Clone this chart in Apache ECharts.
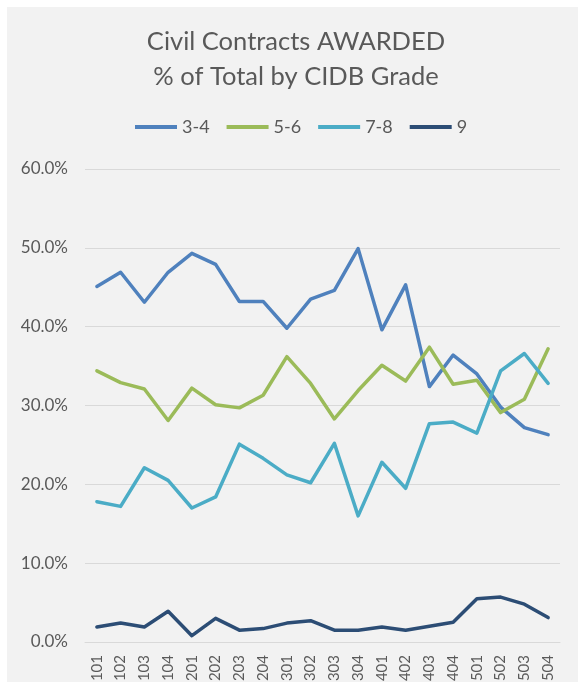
<!DOCTYPE html>
<html>
<head>
<meta charset="utf-8">
<script src="https://cdn.jsdelivr.net/npm/echarts@6/dist/echarts.min.js"></script>
<style>
  html, body { margin: 0; padding: 0; background: #ffffff; }
  #chart { position: absolute; left: 7px; top: 7px; width: 571px; height: 675px; background: #f2f2f2; }
</style>
</head>
<body>
<div id="chart"></div>
<script>
const quarters = ["1101", "1102", "1103", "1104", "1201", "1202", "1203", "1204",
  "1301", "1302", "1303", "1304", "1401", "1402", "1403", "1404",
  "1501", "1502", "1503", "1504"];

// % of total contracts awarded per CIDB grade band
const grade34 = [45.1, 46.9, 43.1, 46.9, 49.3, 47.9, 43.2, 43.2, 39.8, 43.5,
  44.6, 49.9, 39.6, 45.3, 32.4, 36.4, 34.0, 29.8, 27.2, 26.3];
const grade56 = [34.4, 32.9, 32.1, 28.1, 32.2, 30.1, 29.7, 31.3, 36.2, 32.8,
  28.3, 31.9, 35.1, 33.1, 37.4, 32.7, 33.2, 29.1, 30.8, 37.2];
const grade78 = [17.8, 17.2, 22.1, 20.5, 17.0, 18.4, 25.1, 23.3, 21.2, 20.2,
  25.2, 16.0, 22.8, 19.5, 27.7, 27.9, 26.5, 34.4, 36.6, 32.8];
const grade9 = [1.9, 2.4, 1.9, 3.9, 0.8, 3.0, 1.5, 1.7, 2.4, 2.7,
  1.5, 1.5, 1.9, 1.5, 2.0, 2.5, 5.5, 5.7, 4.8, 3.1];

const seriesNames = ["3-4", "5-6", "7-8", "9"];
const seriesColors = ["#4f81bd", "#9bbb59", "#4bacc6", "#2c4d75"];
const seriesData = [grade34, grade56, grade78, grade9];

const chart = echarts.init(document.getElementById("chart"));

const option = {
  backgroundColor: "#f2f2f2",
  textStyle: { fontFamily: "Lato" },
  title: {
    text: "Civil Contracts AWARDED\n% of Total by CIDB Grade",
    left: 289,
    top: 17,
    padding: 0,
    textAlign: "center",
    textStyle: {
      color: "#595959",
      fontSize: 25.5,
      fontWeight: "normal",
      lineHeight: 35,
      fontFamily: "Lato",
    },
  },
  legend: {
    data: seriesNames,
    left: 128,
    top: 111,
    padding: 0,
    icon: "rect",
    itemWidth: 42,
    itemHeight: 4,
    itemGap: 17,
    textStyle: { color: "#595959", fontSize: 18, fontFamily: "Lato" },
  },
  grid: {
    left: 78,
    right: 18,
    top: 162,
    bottom: 40,
    containLabel: false,
    outerBoundsMode: "none",
  },
  xAxis: {
    type: "category",
    data: quarters,
    boundaryGap: true,
    axisLine: { lineStyle: { color: "#d9d9d9", width: 1 } },
    axisTick: { show: false },
    axisLabel: {
      rotate: 90,
      interval: 0,
      margin: 13,
      color: "#595959",
      fontSize: 15,
      fontFamily: "Lato",
    },
  },
  yAxis: {
    type: "value",
    min: 0,
    max: 60,
    interval: 10,
    axisLine: { show: false },
    axisTick: { show: false },
    splitLine: { lineStyle: { color: "#d9d9d9", width: 1 } },
    axisLabel: {
      margin: 17,
      color: "#595959",
      fontSize: 17,
      fontFamily: "Lato",
      formatter: (v) => v.toFixed(1) + "%",
    },
  },
  series: seriesNames.map((name, i) => ({
    name: name,
    type: "line",
    data: seriesData[i],
    showSymbol: false,
    symbol: "none",
    color: seriesColors[i],
    lineStyle: { width: 3.5, color: seriesColors[i], join: "round", cap: "round" },
    animation: false,
  })),
};

chart.setOption(option);
</script>
</body>
</html>
